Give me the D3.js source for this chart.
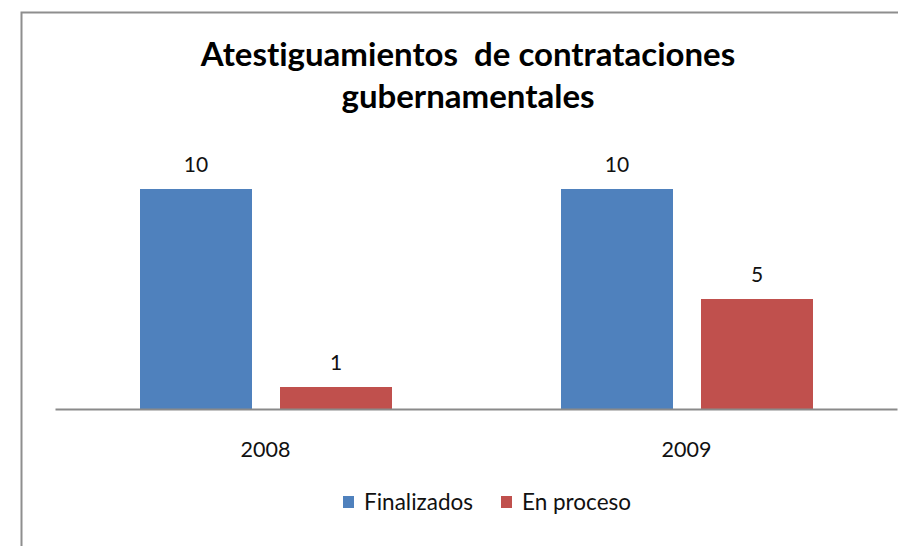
<!DOCTYPE html>
<html><head><meta charset="utf-8">
<script src="https://cdn.jsdelivr.net/npm/d3@7"></script>
<style>body{margin:0;background:#fff;} svg{display:block;} text{font-variant-ligatures:none;font-feature-settings:"liga" 0;}</style>
</head><body>
<svg id="c" width="898" height="546"></svg>
<script>
const categories = ["2008", "2009"];
const seriesNames = ["Finalizados", "En proceso"];
const finalizados = [10, 10];
const enProceso = [1, 5];
const colors = ["#4F81BD", "#C0504D"];
const titleLines = ["Atestiguamientos  de contrataciones", "gubernamentales"];

const svg = d3.select("#c");
const font = "Lato, 'Open Sans', sans-serif";

// frame
svg.append("rect").attr("x", 21.5).attr("y", 12.5).attr("width", 900).attr("height", 560)
  .attr("fill", "#fff").attr("stroke", "#8e8e8e").attr("stroke-width", 2);

const x0 = d3.scaleBand().domain(categories).range([55, 897]).paddingInner(0).paddingOuter(0);
const x1 = d3.scaleBand().domain(seriesNames).range([85, 337]).paddingInner(28/140);
const y = d3.scaleLinear().domain([0, 12]).range([409, 145]);

const seriesVals = [finalizados, enProceso];
const data = [];
categories.forEach((c, i) => seriesNames.forEach((s, j) => data.push({c, s, v: seriesVals[j][i], j})));

const g = svg.append("g");
g.selectAll("rect.bar").data(data).join("rect").attr("class", "bar")
  .attr("x", d => x0(d.c) + x1(d.s))
  .attr("width", x1.bandwidth())
  .attr("y", d => y(d.v))
  .attr("height", d => y(0) - y(d.v))
  .attr("fill", d => colors[d.j]);

g.selectAll("text.lbl").data(data).join("text").attr("class", "lbl")
  .attr("x", d => x0(d.c) + x1(d.s) + x1.bandwidth()/2)
  .attr("y", d => y(d.v) - 17)
  .attr("text-anchor", "middle")
  .attr("font-family", font).attr("font-size", 21).attr("fill", "#111")
  .text(d => d.v);

// x axis
const ax = svg.append("g").attr("transform", "translate(0,409)")
  .call(d3.axisBottom(x0).tickSize(0).tickPadding(0));
ax.select(".domain").attr("stroke", "#8a8a8a").attr("stroke-width", 2);
ax.selectAll("text").attr("font-family", font).attr("font-size", 21.5).attr("fill", "#111")
  .attr("dy", null).attr("y", 48);

// title
svg.append("text").attr("x", 468).attr("text-anchor", "middle")
  .style("white-space", "pre")
  .attr("font-family", font).attr("font-weight", "bold").attr("font-size", 33).attr("fill", "#000")
  .selectAll("tspan").data(titleLines).join("tspan")
  .attr("x", 468).attr("y", (d, i) => 66 + i * 42).text(d => d);

// legend
const legX = [343, 501];
const lg = svg.append("g");
seriesNames.forEach((s, i) => {
  lg.append("rect").attr("x", legX[i]).attr("y", 496).attr("width", 11).attr("height", 12).attr("fill", colors[i]);
  lg.append("text").attr("x", legX[i] + 21).attr("y", 510)
    .attr("font-family", font).attr("font-size", 22.5).attr("fill", "#111").text(s);
});
</script>
</body></html>
